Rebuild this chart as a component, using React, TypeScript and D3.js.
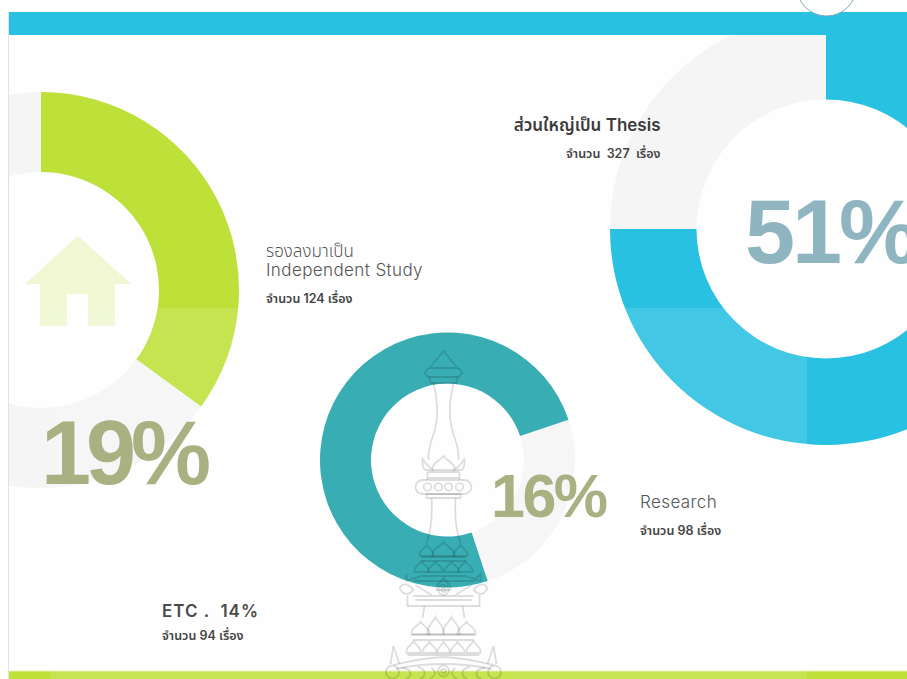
import React from "react";
import * as d3 from "d3";

const W = 907, H = 679;
const shares = [35, 75, 75];            // % of ring that is coloured
const startShares = [0, 0, 44.9];       // where the coloured arc starts, % clockwise from top
const ringColors = ["#bde138", "#28c1e1", "#1da2a9"];
const trackColor = "#f5f5f5";
const centers: [number, number][] = [[41, 290], [826, 229], [447.5, 460]];
const radii: [number, number][] = [[198, 118], [216, 129.5], [127.5, 76.5]];
const percentLabels = ["19%", "51%", "16%"];

const angle = d3.scaleLinear().domain([0, 100]).range([0, 2 * Math.PI]);
const arcGen = d3.arc();

const petal = (x: number, top: number, base: number, hw: number) =>
  `M${x - hw},${base} C${x - hw - 1},${base - (base - top) * 0.5} ${x - hw * 0.3},${top + (base - top) * 0.35} ${x},${top} C${x + hw * 0.3},${top + (base - top) * 0.35} ${x + hw + 1},${base - (base - top) * 0.5} ${x + hw},${base} Z`;

const emblemPaths = [
  // finial
  "M0,351 L-14,368 L14,368 Z",
  "M-15,368 L-19,373 L-15,377 L15,377 L19,373 L15,368",
  "M-14,377 L-13,383 L13,383 L14,377",
  // upper stem
  "M-10,383 C-6,400 -5,415 -8,427 C-10,438 -16,445 -15,460",
  "M10,383 C6,400 5,415 8,427 C10,438 16,445 15,460",
  // upper crown
  petal(0, 456, 470, 11),
  "M-21,458 C-18,466 -14,466 -11,470 L-18,470 C-22,468 -21,462 -21,458",
  "M21,458 C18,466 14,466 11,470 L18,470 C22,468 21,462 21,458",
  "M-16,472 L16,472 M-16,478 L16,478 M-16,472 L-16,480 M16,472 L16,480",
  "M-21,480 L21,480 A7,7 0 0 1 21,494 L-21,494 A7,7 0 0 1 -21,480 Z",
  "M-17,494 L17,494 L17,498 L-17,498 Z",
  // lower stem
  "M-12,498 C-11,515 -12,530 -17,543",
  "M12,498 C11,515 12,530 17,543",
  // middle crown
  petal(0, 542, 556, 11), petal(-17, 545, 556, 7), petal(17, 545, 556, 7),
  "M-22,557 L22,557 M-22,561 L22,561",
  petal(-22, 561, 572, 7), petal(-8, 562, 572, 7), petal(8, 562, 572, 7), petal(22, 561, 572, 7),
  "M-37,574 L-37,581 L-22,576 L22,576 L37,581 L37,574 L30,581 L-30,581",
  petal(0, 578, 590, 7),
  "M-44,588 C-40,582 -35,584 -30,590 C-35,595 -40,596 -44,588",
  "M44,588 C40,582 35,584 30,590 C35,595 40,596 44,588",
  "M-28,585 L-12,595 M28,585 L12,595 M-30,596 L30,596",
  "M-36,595 L-36,606 L36,606 L36,595 M-28,600 L28,600",
  // base stem
  "M-19,606 L-21,618 M19,606 L21,618",
  // base crown
  petal(-23, 622, 634, 9), petal(-8, 617, 634, 8), petal(8, 617, 634, 8), petal(23, 622, 634, 9),
  "M-32,635 L32,635 M-30,640 L30,640",
  petal(-30, 641, 653, 7), petal(-14, 642, 653, 7), petal(0, 642, 653, 6), petal(14, 642, 653, 7), petal(30, 641, 653, 7),
  "M-36,655 L36,655",
  // flourish
  "M-50,665 C-30,660 -15,658 0,657 C15,658 30,660 50,665",
  "M-48,669 C-30,665 -15,664 0,664 C15,664 30,665 48,669",
  "M-53,664 L-50,646 L-44,664 M53,664 L50,646 L44,664",
  "M-26,667 C-18,668 -16,676 -24,679 M26,667 C18,668 16,676 24,679",
  "M-42,668 C-32,668 -30,676 -38,679 M42,668 C32,668 30,676 38,679",
  "M-12,668 C-6,672 -8,676 -14,679 M12,668 C6,672 8,676 14,679",
];
const emblemCircles: [number, number, number][] = [
  [-16, 487, 3.8], [-5, 487, 3.8], [5, 487, 3.8], [16, 487, 3.8],
  [0, 590, 5], [0, 590, 2], [0, 671, 5.5], [0, 671, 2.2], [-51, 672, 6.5], [51, 672, 6.5],
];

const sansFont = "Inter, 'Noto Sans', sans-serif";
const thaiFont = "Inter, 'Noto Sans Thai', 'Noto Sans', 'DejaVu Sans', sans-serif";

export default function App() {
  return (
    <svg width={W} height={H} viewBox={`0 0 ${W} ${H}`} style={{ position: "absolute", left: 0, top: 0, display: "block", background: "#fff" }}>
      <defs>
        <clipPath id="frame"><rect x={9} y={12} width={W - 9} height={H - 12} /></clipPath>
      </defs>
      <rect x={9} y={12} width={W - 9} height={H - 12} fill="#fefefe" />
      <rect x={8} y={12} width={1} height={H - 12} fill="#dfe1e3" />
      <g clipPath="url(#frame)">
        {centers.map((c, i) => (
          <g key={i} transform={`translate(${c[0]},${c[1]})`}>
            <path fill={trackColor} d={arcGen({ innerRadius: radii[i][1], outerRadius: radii[i][0], startAngle: 0, endAngle: 2 * Math.PI })!} />
            <path fill={ringColors[i]} d={arcGen({ innerRadius: radii[i][1], outerRadius: radii[i][0], startAngle: angle(startShares[i]), endAngle: angle(startShares[i] + shares[i]) })!} />
          </g>
        ))}
        {/* house */}
        <path fill="#f0f7d2" d="M78,236 L131,284 L115,284 L115,326 L88,326 L88,294 L67,294 L67,326 L40,326 L40,284 L25,284 Z" />
        <rect x={9} y={12} width={W - 9} height={23} fill={ringColors[1]} />
        <rect x={9} y={671} width={W - 9} height={8} fill={ringColors[0]} />
        <rect x={9} y={670.5} width={W - 9} height={1} fill="#e4f1ad" />
        <rect x={50} y={308} width={757} height={371} fill="#fff" opacity={0.12} />
      </g>
      {/* top notch */}
      <circle cx={826.5} cy={-14} r={30} fill="#fff" stroke="#7fa9b6" strokeWidth={1} />
      {/* emblem */}
      <g transform="translate(443.5,0)" fill="none" stroke="#000" strokeOpacity={0.13} strokeWidth={1.8}>
        {emblemPaths.map((d, i) => <path key={i} d={d} />)}
        {emblemCircles.map((e, i) => <circle key={i} cx={e[0]} cy={e[1]} r={e[2]} />)}
      </g>
      {/* big percentages */}
      <text x={41} y={484} fontFamily="'Liberation Sans', Arial, sans-serif" fontWeight={700} fontSize={90} letterSpacing={-5} fill="#a9b183">{percentLabels[0]}</text>
      <text x={745} y={263} fontFamily="'Liberation Sans', Arial, sans-serif" fontWeight={700} fontSize={90} letterSpacing={-3} fill="#8fb6c0">{percentLabels[1]}</text>
      <text x={491} y={517} fontFamily="'Liberation Sans', Arial, sans-serif" fontWeight={700} fontSize={61} letterSpacing={-2.5} fill="#a9b183">{percentLabels[2]}</text>
      {/* labels */}
      <text x={660.5} y={131} textAnchor="end" fontFamily={thaiFont} fontSize={17} fontWeight={600} fill="#3c3c3c">ส่วนใหญ่เป็น Thesis</text>
      <text x={660.5} y={158} textAnchor="end" fontFamily={thaiFont} fontSize={12.5} fontWeight={600} fill="#444" xmlSpace="preserve">จำนวน  327  เรื่อง</text>
      <text x={266} y={257} fontFamily={thaiFont} fontSize={17} fontWeight={300} fill="#555">รองลงมาเป็น</text>
      <text x={266} y={276} fontFamily={sansFont} fontSize={17} fontWeight={300} letterSpacing={0.4} fill="#555">Independent Study</text>
      <text x={266} y={303} fontFamily={thaiFont} fontSize={12.5} fontWeight={600} fill="#444">จำนวน 124 เรื่อง</text>
      <text x={640} y={508} fontFamily={sansFont} fontSize={17} fontWeight={300} letterSpacing={0.4} fill="#555">Research</text>
      <text x={640} y={535} fontFamily={thaiFont} fontSize={12.5} fontWeight={600} fill="#444">จำนวน 98 เรื่อง</text>
      <text x={162} y={617} fontFamily={sansFont} fontSize={17} fontWeight={600} letterSpacing={1} fill="#4a4a4a" xmlSpace="preserve">ETC .  14%</text>
      <text x={162} y={640} fontFamily={thaiFont} fontSize={12.5} fontWeight={600} fill="#444">จำนวน 94 เรื่อง</text>
    </svg>
  );
}
